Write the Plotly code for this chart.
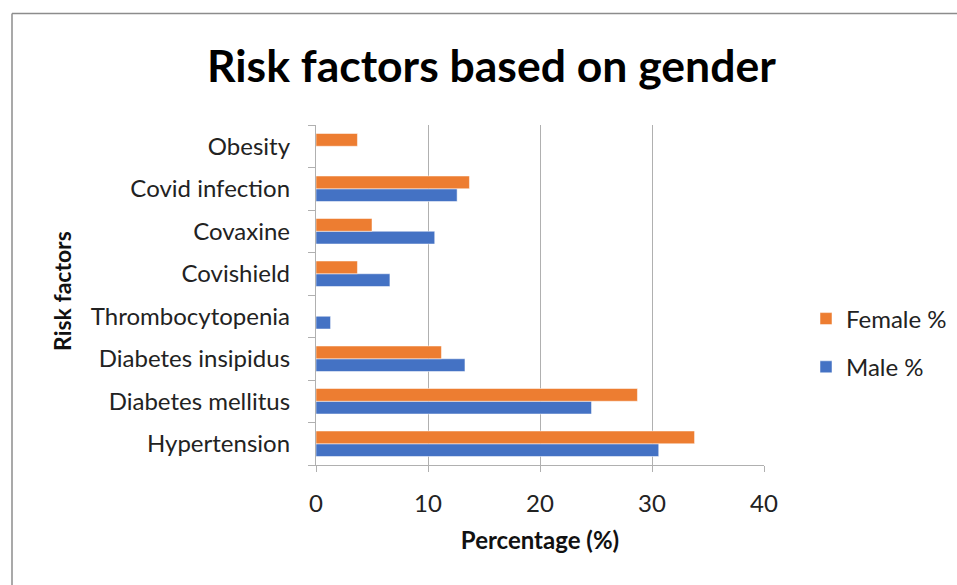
import plotly.graph_objects as go

categories = ["Hypertension", "Diabetes mellitus", "Diabetes insipidus", "Thrombocytopenia",
              "Covishield", "Covaxine", "Covid infection", "Obesity"]
male_pct = [30.6, 24.6, 13.3, 1.3, 6.6, 10.6, 12.6, 0]
female_pct = [33.8, 28.7, 11.2, 0, 3.7, 5.0, 13.7, 3.7]
x_ticks = [0, 10, 20, 30, 40]

W, H = 957, 585
L, R, T, B = 316, 0, 125, 585 - 465
pw, ph = W - L - R, H - T - B
axis_right = 764

def px(x):
    return (x - L) / pw

def py(y):
    return 1 - (y - T) / ph

font = "Lato, Carlito, Calibri, sans-serif"
fs = 24

fig = go.Figure()
fig.add_trace(go.Bar(y=categories, x=male_pct, orientation="h", name="Male %",
                     marker=dict(color="#4472C4", line=dict(color="white", width=0.5)),
                     legendgroup="m", legendrank=2))
fig.add_trace(go.Bar(y=categories, x=female_pct, orientation="h", name="Female %",
                     marker=dict(color="#ED7D31", line=dict(color="white", width=0.5)),
                     legendgroup="f", legendrank=1))

fig.update_layout(
    width=W, height=H,
    margin=dict(l=L, r=R, t=T, b=B, autoexpand=False),
    paper_bgcolor="white", plot_bgcolor="white",
    barmode="group", bargap=0.40, bargroupgap=0,
    font=dict(family=font, size=fs, color="#222222"),
    showlegend=True,
    legend=dict(x=px(806), y=py(343), xanchor="left", yanchor="middle",
                traceorder="grouped", tracegroupgap=14,
                font=dict(size=fs, color="#222222"), itemwidth=30),
    xaxis=dict(domain=[0, px(axis_right)], range=[0, 40], tickvals=x_ticks,
               showgrid=True, gridcolor="#B0B0B0", gridwidth=1.3,
               zeroline=False, showline=True, linecolor="#B0B0B0", linewidth=1.3,
               ticks="outside", ticklen=6, tickcolor="#B0B0B0", ticklabelstandoff=11,
               tickfont=dict(size=fs, color="#222222"),
               title=dict(text="<b>Percentage (%)</b>", font=dict(size=fs, color="#111111"), standoff=16)),
    yaxis=dict(showgrid=False, zeroline=False, showline=True, linecolor="#B0B0B0", linewidth=1.3,
               ticks="outside", ticklen=7, tickcolor="#B0B0B0", tickson="boundaries",
               ticklabelstandoff=20, tickfont=dict(size=fs, color="#222222"),
               categoryorder="array", categoryarray=categories),
    annotations=[
        dict(text="<b>Risk factors based on gender</b>", x=px(491), y=py(65), xref="paper", yref="paper",
             xanchor="center", yanchor="middle", showarrow=False,
             font=dict(family=font, size=44.5, color="#000000")),
        dict(text="<b>Risk factors</b>", x=px(62), y=py(291), xref="paper", yref="paper",
             xanchor="center", yanchor="middle", showarrow=False, textangle=-90,
             font=dict(family=font, size=23, color="#111111")),
    ],
    shapes=[
        dict(type="line", xref="paper", yref="paper", x0=px(12), x1=px(990), y0=py(13.5), y1=py(13.5),
             line=dict(color="#8C8C8C", width=1.5)),
        dict(type="line", xref="paper", yref="paper", x0=px(12), x1=px(12), y0=py(13.5), y1=py(600),
             line=dict(color="#8C8C8C", width=1.5)),
    ],
)

fig.write_html("out.html")
